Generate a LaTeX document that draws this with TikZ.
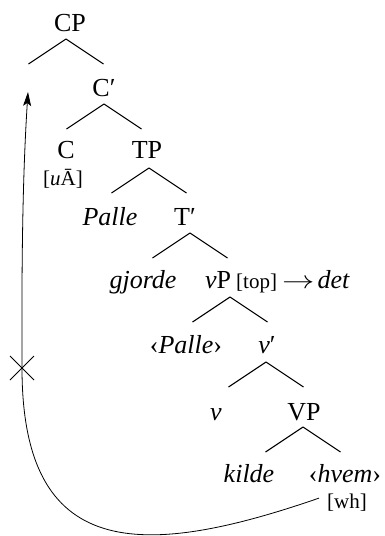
\documentclass[tikz,border=0pt]{standalone}
\usepackage{fontspec}
\setmainfont{Liberation Serif}
\usetikzlibrary{arrows.meta,calc}
\begin{document}
\begin{tikzpicture}[x=1pt,y=-1pt,
  lab/.style={anchor=base,inner sep=0pt,font=\fontsize{26}{30}\selectfont},
  sm/.style={anchor=base,inner sep=0pt,font=\fontsize{21}{24}\selectfont},
  branch/.style={line width=1.1pt},
  move/.style={line width=0.8pt},
  cross/.style={line width=0.9pt}]
\useasboundingbox (0,0) rectangle (384,536);
% labels
\node[lab] (CP) at (70,31) {CP};
\node[lab] (Cb) at (104,96) {C′};
\node[lab] (C) at (66,158) {C};
\node[sm] (uA) at (63,185) {[\textit{u}Ā]};
\node[lab] (TP) at (147,158) {TP};
\node[lab] (Palle) at (110,225) {\textit{Palle}};
\node[lab] (Tb) at (185,225) {T′};
\node[lab] (gjorde) at (143,288) {\textit{gjorde}};
\node[lab] (vP) at (218,288) {\textit{v}P};
\node[sm,anchor=base west] (top) at (236,288) {[top]};
\node[lab,anchor=base west] (det) at (282,288) {\scalebox{1.3}[1]{$\rightarrow$}\hspace{3pt}\textit{det}};
\node[lab] (Pallet) at (186,353) {‹\textit{Palle}›};
\node[lab] (vb) at (267,353) {\textit{v}′};
\node[lab] (v) at (216,420) {\textit{v}};
\node[lab] (VP) at (304,420) {VP};
\node[lab] (kilde) at (249,482) {\textit{kilde}};
\node[lab] (hvem) at (345,482) {‹\textit{hvem}›};
\node[sm,inner xsep=8pt] (wh) at (347,508) {[wh]};
% branch apexes
\coordinate (aCP) at (66,39);
\coordinate (aCb) at (104,104);
\coordinate (aTP) at (149,168);
\coordinate (aTb) at (190,233);
\coordinate (avP) at (230,297);
\coordinate (avb) at (266,362);
\coordinate (aVP) at (303,427);
\foreach \a in {aCP,aCb,aTP,aTb,avP,avb,aVP}{
  \draw[branch] (\a) -- +(-37.5,25);
  \draw[branch] (\a) -- +(37.5,25);
}
% movement
\coordinate (start) at ($(wh.west)+(0,-4)$);
\coordinate (X) at (22,368);
\coordinate (tip) at (28,92);
\draw[move,-{Stealth[length=14pt,width=8pt,inset=3pt]}]
  (start) .. controls (140,560) and (22,560) .. (X)
          .. controls (21.5,250) and (23,170) .. (tip);
\draw[cross] (X) ++(-12,-12) -- ++(24,24);
\draw[cross] (X) ++(12,-12) -- ++(-24,24);
\end{tikzpicture}
\end{document}
